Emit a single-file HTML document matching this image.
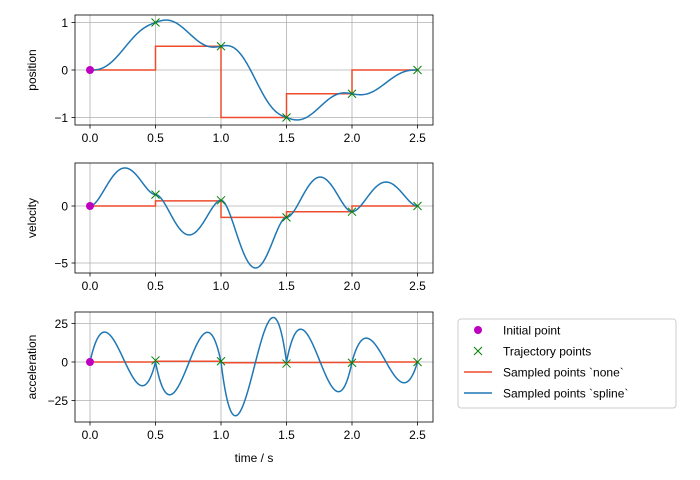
<!DOCTYPE html>
<html><head><meta charset="utf-8"><style>body{margin:0;background:#fff}svg{display:block;font-family:"Liberation Sans",sans-serif}</style></head>
<body><svg id="s" width="700" height="480" xmlns="http://www.w3.org/2000/svg"></svg>
<script>
const S=document.getElementById('s');let h='';
const X=t=>90+t*131;
const P=[0,1,0.5,-1,-0.5,0],V=[0,1,0.5,-1,-0.5,0],T=0.5;
function f(t){let i=Math.min(4,Math.floor(t/T));let s=(t-i*T)/T;
let s2=s*s,s3=s2*s,s4=s3*s,s5=s4*s;
let H0=1-10*s3+15*s4-6*s5,H1=s-6*s3+8*s4-3*s5,H4=-4*s3+7*s4-3*s5,H5=10*s3-15*s4+6*s5;
let d0=-30*s2+60*s3-30*s4,d1=1-18*s2+32*s3-15*s4,d4=-12*s2+28*s3-15*s4,d5=-d0;
let e0=-60*s+180*s2-120*s3,e1=-36*s+96*s2-60*s3,e4=-24*s+84*s2-60*s3,e5=-e0;
return [P[i]*H0+P[i+1]*H5+T*(V[i]*H1+V[i+1]*H4),(P[i]*d0+P[i+1]*d5)/T+V[i]*d1+V[i+1]*d4,(P[i]*e0+P[i+1]*e5)/T/T+(V[i]*e1+V[i+1]*e4)/T];}
const ax=[{top:15,y0:70,k:47.5,ticks:[1,0,-1],lab:'position',red:[0,0.5,-1,-0.5,0]},
{top:163,y0:206,k:11.4,ticks:[0,-5],lab:'velocity',red:[0,0.45,-1,-0.5,0]},
{top:312,y0:362,k:1.545,ticks:[25,0,-25],lab:'acceleration',red:[0,0.5,-0.5,-0.3,0]}];
ax.forEach((a,j)=>{const Y=v=>a.y0-v*a.k;const b=a.top+110;
[0,0.5,1,1.5,2,2.5].forEach(t=>{h+=`<line x1="${X(t)}" x2="${X(t)}" y1="${a.top}" y2="${b}" stroke="#b0b0b0" stroke-width="0.8"/><line x1="${X(t)}" x2="${X(t)}" y1="${b}" y2="${b+3.5}" stroke="#000" stroke-width="0.8"/><text x="${X(t)}" y="${b+17}" font-size="12" text-anchor="middle">${t.toFixed(1)}</text>`});
a.ticks.forEach(v=>{h+=`<line x1="75" x2="433" y1="${Y(v)}" y2="${Y(v)}" stroke="#b0b0b0" stroke-width="0.8"/><line x1="71.5" x2="75" y1="${Y(v)}" y2="${Y(v)}" stroke="#000" stroke-width="0.8"/><text x="68" y="${Y(v)+4.5}" font-size="12" text-anchor="end">${v<0?'\u2212'+(-v):v}</text>`});
let r=`M${X(0)},${Y(0)}`;for(let i=0;i<5;i++){r+=` L${X(i*0.5)},${Y(a.red[i])} L${X(i*0.5+0.5)},${Y(a.red[i])}`}
h+=`<path d="${r}" fill="none" stroke="#ee4c2c" stroke-width="1.5"/>`;
let p='';for(let n=0;n<=500;n++){let t=n*2.5/500;p+=(n?'L':'M')+X(t).toFixed(2)+','+Y(f(Math.min(t,2.4999))[j]).toFixed(2)}
h+=`<path d="${p}" fill="none" stroke="#1f77b4" stroke-width="1.5"/>`;
h+=`<circle cx="${X(0)}" cy="${Y(0)}" r="4" fill="#bf00bf"/>`;
for(let i=1;i<6;i++){let x=X(i*0.5),y=Y(P[i]);h+=`<path d="M${x-4},${y-4}L${x+4},${y+4}M${x-4},${y+4}L${x+4},${y-4}" stroke="#008000" stroke-width="1"/>`}
h+=`<rect x="75" y="${a.top}" width="358" height="110" fill="none" stroke="#000" stroke-width="0.8"/>`;
h+=`<text transform="translate(36,${a.top+55}) rotate(-90)" font-size="12" text-anchor="middle">${a.lab}</text>`;});
h+=`<text x="254" y="462" font-size="12" text-anchor="middle">time / s</text>`;
h+=`<rect x="458" y="319" width="218" height="89" rx="3" fill="#fff" stroke="#ccc"/>`;
h+=`<circle cx="478" cy="330" r="4" fill="#bf00bf"/><text x="503" y="334.5" font-size="12">Initial point</text>`;
h+=`<path d="M474,347L482,355M474,355L482,347" stroke="#008000"/><text x="503" y="355.5" font-size="12">Trajectory points</text>`;
h+=`<line x1="464" x2="492" y1="372" y2="372" stroke="#ee4c2c" stroke-width="1.5"/><text x="503" y="376.5" font-size="12">Sampled points \`none\`</text>`;
h+=`<line x1="464" x2="492" y1="393" y2="393" stroke="#1f77b4" stroke-width="1.5"/><text x="503" y="397.5" font-size="12">Sampled points \`spline\`</text>`;
S.innerHTML=h;
</script></body></html>
